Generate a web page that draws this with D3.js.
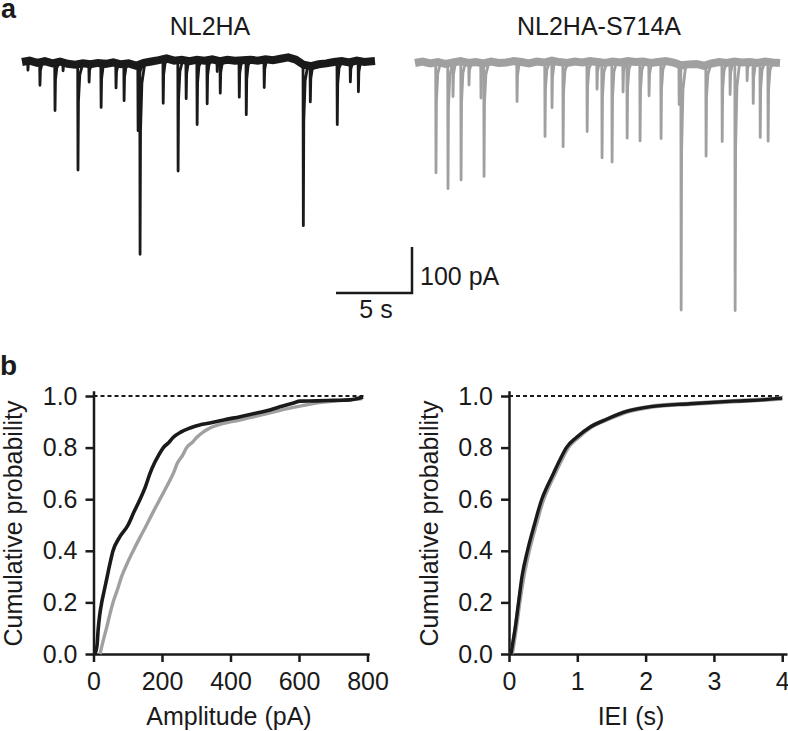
<!DOCTYPE html>
<html><head><meta charset="utf-8">
<script src="https://cdn.jsdelivr.net/npm/d3@7"></script>
<style>
body{margin:0;background:#fff;}
svg text{font-family:"Liberation Sans",Arial,Helvetica,sans-serif;fill:#1a1a1a;}
</style></head>
<body><svg id="c" width="788" height="731"></svg>
<script>
// ---------- Data ----------
// Panel a: event times (s) and amplitudes (pA)
const wtEventT   = [0.39,1.18,2.17,2.70,3.68,4.41,5.20,6.18,6.71,7.63,7.76,9.28,10.26,10.79,11.51,12.17,12.83,13.03,14.28,14.74,15.92,18.49,18.95,20.72,21.58,22.11];
const wtEventAmp = [20,50,104,18,230,39,96,54,80,143,413,96,241,83,141,95,24,70,80,119,61,350,78,137,43,67];
const wtBaseT = [0,0.5,1,1.5,2,2.5,3,3.5,4,4.5,5,5.5,6,6.5,7,7.5,8,8.5,9,9.5,10,10.5,11,11.5,12,12.5,13,13.5,14,14.5,15,15.5,16,16.5,17,17.5,18,18.5,19,19.5,20,20.5,21,21.5,22,22.5,23.2];
const wtBaseV = [0,-3,2,-2,3,-1,4,6,3,5,2,4,1,5,3,8,2,-1,-4,-8,-3,-5,-2,-5,-3,-6,-2,-5,-3,-4,-5,-3,-6,-4,-7,-10,-5,6,9,5,3,0,-2,1,-3,0,-2];

const mutEventT   = [1.38,2.17,2.50,3.03,3.55,4.34,4.54,6.71,8.55,9.01,9.74,11.32,11.97,12.30,12.96,13.68,13.95,14.80,15.39,16.18,17.37,17.50,19.14,20.20,20.72,21.05,21.84,22.24,22.70,23.22];
const mutEventAmp = [240,272,74,258,48,76,246,87,161,102,183,152,59,207,218,65,167,172,72,167,87,532,198,172,70,541,40,89,163,172];
const mutBaseT = [0,0.5,1,1.5,2,2.5,3,3.5,4,4.5,5,5.5,6,6.5,7,7.5,8,8.5,9,9.5,10,10.5,11,11.5,12,12.5,13,13.5,14,14.5,15,15.5,16,16.5,17,17.5,18,18.5,19,19.5,20,20.5,21,21.5,22,22.5,23,23.5,24];
const mutBaseV = [0,-3,1,-2,2,-1,-4,0,-2,1,-3,0,-1,-4,-2,1,-3,-1,-5,-2,0,-3,-1,-4,-2,0,-3,-1,-4,-2,-3,0,-2,-4,-1,5,3,2,6,1,-2,0,-3,-1,-2,0,-3,-1,0];

// Panel b: cumulative distributions
const ampBlackX = [4,10,14,18,24,32,40,48,57,75,101,118,136,152,165,178,190,204,220,233,255,282,310,340,380,428,470,515,550,584,603,650,700,749,787];
const ampBlackP = [0,0.03,0.1,0.15,0.2,0.25,0.3,0.35,0.4,0.45,0.5,0.55,0.6,0.65,0.7,0.74,0.77,0.8,0.82,0.84,0.86,0.876,0.888,0.895,0.907,0.92,0.932,0.946,0.96,0.973,0.98,0.981,0.983,0.985,0.996];
const ampGrayX  = [19,28,38,47,57,70,82,98,116,135,155,174,194,214,233,245,260,272,288,302,320,340,370,420,470,530,580,620,660,700,750,785];
const ampGrayP  = [0,0.05,0.1,0.15,0.2,0.25,0.3,0.35,0.4,0.45,0.5,0.55,0.6,0.65,0.7,0.74,0.77,0.8,0.82,0.84,0.86,0.876,0.89,0.905,0.92,0.94,0.955,0.965,0.975,0.98,0.985,0.99];
const ieiBlackX = [0.03,0.06,0.09,0.14,0.19,0.27,0.37,0.48,0.56,0.65,0.74,0.84,0.99,1.19,1.43,1.72,2.11,2.65,3.28,3.7,4.0];
const ieiBlackP = [0,0.05,0.1,0.2,0.3,0.4,0.5,0.6,0.65,0.7,0.75,0.8,0.84,0.88,0.91,0.94,0.96,0.97,0.98,0.985,0.992];
const ieiGrayX  = [0.04,0.07,0.1,0.15,0.21,0.29,0.39,0.5,0.58,0.67,0.76,0.86,1.01,1.2,1.44,1.73,2.12,2.66,3.3,3.7,4.0];
const ieiGrayP  = [0,0.05,0.1,0.2,0.3,0.4,0.5,0.6,0.65,0.7,0.75,0.8,0.84,0.88,0.91,0.94,0.96,0.97,0.98,0.985,0.99];

const yTicks = [0,0.2,0.4,0.6,0.8,1.0];
const ampTicks = [0,200,400,600,800];
const ieiTicks = [0,1,2,3,4];

// ---------- Drawing ----------
const svg = d3.select("#c");
const BLACK = "#1a1a1a", GRAY = "#a0a0a0";
const FS = 25;

// panel labels
svg.append("text").attr("x",1).attr("y",18).attr("font-size",27).attr("font-weight","bold").text("a");
svg.append("text").attr("x",0).attr("y",375).attr("font-size",28).attr("font-weight","bold").text("b");

// traces
function drawTrace(x0, x1, dur, baseY, evT, evA, bT, bV, color, title, titleX){
  const xs = d3.scaleLinear().domain([0,dur]).range([x0,x1]);
  const cur = d3.scaleLinear().domain([0,100]).range([baseY, baseY+46]);
  const base = d3.scaleLinear().domain(bT).range(bV);
  const g = svg.append("g");
  const line = d3.line().x(d=>xs(d[0])).y(d=>cur(d[1]));
  const basePts = bT.map((t,i)=>[t,bV[i]]);
  g.append("path").attr("d", line(basePts)).attr("fill","none")
    .attr("stroke",color).attr("stroke-width",8).attr("stroke-linejoin","miter").attr("stroke-linecap","butt");
  evT.forEach((t,i)=>{
    const b = base(t), a = evA[i];
    const pts = [[t-0.02,b],[t,b+a],[t+0.03,b+a*0.35],[t+0.12,b+a*0.1],[t+0.3,b]];
    g.append("path").attr("d", line(pts)).attr("fill","none")
      .attr("stroke",color).attr("stroke-width",2.8).attr("stroke-linejoin","round");
  });
  svg.append("text").attr("x",titleX).attr("y",35).attr("text-anchor","middle").attr("font-size",FS).text(title);
  return {xs, cur};
}
drawTrace(22, 375, 23.2, 62, wtEventT, wtEventAmp, wtBaseT, wtBaseV, BLACK, "NL2HA", 210);
drawTrace(415, 780, 24, 63, mutEventT, mutEventAmp, mutBaseT, mutBaseV, GRAY, "NL2HA-S714A", 599);

// scale bar (5 s, 100 pA)
{
  const sx = d3.scaleLinear().domain([0,5]).range([336,412]);
  const sy = d3.scaleLinear().domain([0,100]).range([293,247]);
  svg.append("path").attr("d", d3.line()([[sx(0),sy(0)],[sx(5),sy(0)],[sx(5),sy(100)]]))
    .attr("fill","none").attr("stroke",BLACK).attr("stroke-width",2.5);
  svg.append("text").attr("x",420).attr("y",285).attr("font-size",FS).text("100 pA");
  svg.append("text").attr("x",376).attr("y",318).attr("text-anchor","middle").attr("font-size",FS).text("5 s");
}

// CDF panels
function cdfPanel(ax, xDomEnd, xRangeEnd, ticks, fmt, xlabel, xlabelX, titleX, series, dotEnd){
  const x = d3.scaleLinear().domain([0,xDomEnd]).range([ax,xRangeEnd]);
  const y = d3.scaleLinear().domain([0,1.02]).range([654, 654-258*1.02]);
  const g = svg.append("g");
  g.append("line").attr("x1",ax).attr("x2",x(dotEnd)).attr("y1",y(1)).attr("y2",y(1))
    .attr("stroke",BLACK).attr("stroke-width",2).attr("stroke-dasharray","4,3");
  const yAx = g.append("g").attr("transform",`translate(${ax},0)`)
    .call(d3.axisLeft(y).tickValues(yTicks).tickFormat(d3.format(".1f")).tickSize(8).tickSizeOuter(0).tickPadding(8));
  const xAx = g.append("g").attr("transform",`translate(0,654)`)
    .call(d3.axisBottom(x).tickValues(ticks).tickFormat(fmt).tickSize(8).tickSizeOuter(0).tickPadding(10));
  [yAx,xAx].forEach(a=>{
    a.selectAll("path,line").attr("stroke",BLACK).attr("stroke-width",2.5);
    a.selectAll("text").attr("font-size",FS).attr("fill",BLACK)
      .attr("font-family",'"Liberation Sans",Arial,sans-serif');
  });
  const line = d3.line().x(d=>x(d[0])).y(d=>y(d[1])).curve(d3.curveMonotoneX);
  series.forEach(s=>{
    g.append("path").attr("d", line(s.xs.map((v,i)=>[v,s.ps[i]]))).attr("fill","none")
      .attr("stroke",s.color).attr("stroke-width",s.w).attr("stroke-linejoin","round");
  });
  svg.append("text").attr("x",xlabelX).attr("y",725).attr("text-anchor","middle").attr("font-size",FS).text(xlabel);
  svg.append("text").attr("transform",`translate(${titleX},523.5) rotate(-90)`).attr("text-anchor","middle")
    .attr("font-size",FS).text("Cumulative probability");
}
cdfPanel(93.5, 805, 369.2, ampTicks, d3.format("d"), "Amplitude (pA)", 229, 22, 
  [{xs:ampGrayX,ps:ampGrayP,color:GRAY,w:3.4},{xs:ampBlackX,ps:ampBlackP,color:BLACK,w:3.6}], 790);
cdfPanel(509, 4.07, 787, ieiTicks, d3.format("d"), "IEI (s)", 631, 438,
  [{xs:ieiGrayX,ps:ieiGrayP,color:GRAY,w:4.5},{xs:ieiBlackX,ps:ieiBlackP,color:BLACK,w:3.4}], 4.0);
</script></body></html>
